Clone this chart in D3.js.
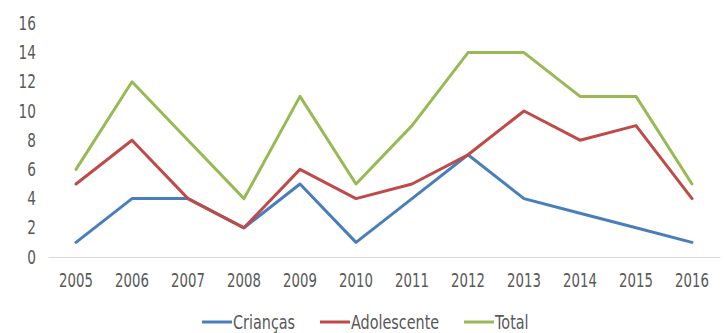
<!DOCTYPE html>
<html>
<head>
<meta charset="utf-8">
<script src="https://cdn.jsdelivr.net/npm/d3@7"></script>
<style>
  html, body { margin: 0; padding: 0; background: #fff; }
  svg { display: block; }
  text { font-family: "DejaVu Sans", sans-serif; fill: #595959; }
</style>
</head>
<body>
<svg id="chart" width="724" height="333"></svg>
<script>
const years = ["2005","2006","2007","2008","2009","2010","2011","2012","2013","2014","2015","2016"];
const criancas    = [1, 4, 4, 2, 5, 1, 4, 7, 4, 3, 2, 1];
const adolescente = [5, 8, 4, 2, 6, 4, 5, 7, 10, 8, 9, 4];
const total       = [6, 12, 8, 4, 11, 5, 9, 14, 14, 11, 11, 5];
const yTicks = [0, 2, 4, 6, 8, 10, 12, 14, 16];
const seriesNames = ["Crianças", "Adolescente", "Total"];
const seriesColors = ["#4A7EBB", "#BE4B48", "#98B954"];

const series = [criancas, adolescente, total].map((v, i) => ({ name: seriesNames[i], values: v, color: seriesColors[i] }));

const svg = d3.select("#chart");
const x = d3.scaleBand().domain(years).range([48, 720]);
const y = d3.scaleLinear().domain([0, 16]).range([257, 23.4]);

const FONT = "'DejaVu Sans', sans-serif";

// y axis labels
const yAxis = svg.append("g").attr("transform", "translate(36,0)")
  .call(d3.axisLeft(y).tickValues(yTicks).tickSize(0).tickPadding(0));
yAxis.select(".domain").remove();
yAxis.selectAll("text").style("font-size", "19px").attr("fill", "#666666")
  .style("font-family", FONT).attr("transform", "scale(0.72,1)");

// x axis
const xAxis = svg.append("g").attr("transform", "translate(0,257)")
  .call(d3.axisBottom(x).tickSize(0).tickPadding(17));
xAxis.select(".domain").attr("stroke", "#D9D9D9").attr("stroke-width", 1);
xAxis.selectAll("text").style("font-size", "19px").attr("fill", "#666666")
  .style("font-family", FONT).attr("transform", "scale(0.7,1)");

const line = d3.line()
  .x((d, i) => x(years[i]) + x.bandwidth() / 2)
  .y(d => y(d));

svg.append("g").selectAll("path").data(series).join("path")
  .attr("d", d => line(d.values))
  .attr("fill", "none")
  .attr("stroke", d => d.color)
  .attr("stroke-width", 3)
  .attr("stroke-linejoin", "round")
  .attr("stroke-linecap", "round");

// legend
const legendX = [202, 320, 464];
const lg = svg.append("g").selectAll("g").data(series).join("g")
  .attr("transform", (d, i) => `translate(${legendX[i]},322)`);
lg.append("line").attr("x1", 0).attr("x2", 30).attr("y1", 0).attr("y2", 0)
  .attr("stroke", d => d.color).attr("stroke-width", 3);
lg.append("g").attr("transform", "translate(31,0) scale(0.72,1)")
  .append("text").attr("x", 0).attr("y", 0).attr("dy", "0.35em")
  .style("font-size", "20px").style("font-family", FONT).attr("fill", "#666666")
  .text(d => d.name);
</script>
</body>
</html>
